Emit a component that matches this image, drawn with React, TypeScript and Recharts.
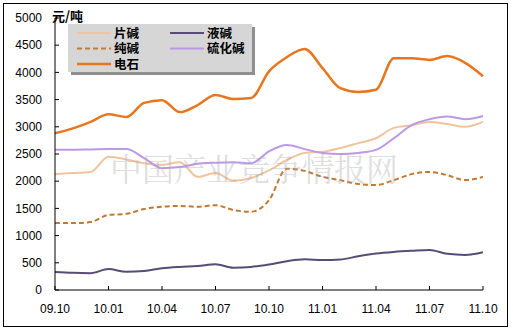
import React from "react";
import { LineChart, Line, XAxis, YAxis, Legend } from "recharts";

const months = [
  "09.10", "09.11", "09.12", "10.01", "10.02", "10.03", "10.04", "10.05", "10.06",
  "10.07", "10.08", "10.09", "10.10", "10.11", "10.12", "11.01", "11.02", "11.03",
  "11.04", "11.05", "11.06", "11.07", "11.08", "11.09", "11.10",
];
const tickLabels = ["09.10", "10.01", "10.04", "10.07", "10.10", "11.01", "11.04", "11.07", "11.10"];
const yTicks = [0, 500, 1000, 1500, 2000, 2500, 3000, 3500, 4000, 4500, 5000];

// 片碱
const pianJian = [2130, 2150, 2170, 2450, 2400, 2330, 2300, 2350, 2080, 2150, 2010, 2060, 2200, 2390, 2520, 2540, 2610, 2700, 2790, 2980, 3030, 3090, 3050, 3000, 3090];
// 纯碱
const chunJian = [1230, 1230, 1250, 1380, 1400, 1490, 1530, 1545, 1530, 1560, 1470, 1440, 1650, 2230, 2190, 2080, 2020, 1950, 1930, 2020, 2130, 2170, 2110, 2020, 2080];
// 电石
const dianShi = [2880, 2970, 3090, 3230, 3180, 3440, 3490, 3270, 3400, 3585, 3510, 3530, 4020, 4280, 4430, 4080, 3710, 3640, 3680, 4260, 4260, 4230, 4300, 4175, 3930];
// 液碱
const yeJian = [330, 315, 310, 385, 335, 350, 400, 425, 440, 475, 410, 425, 470, 530, 565, 550, 560, 620, 670, 700, 720, 735, 665, 645, 695];
// 硫化碱
const liuHuaJian = [2580, 2580, 2585, 2590, 2590, 2425, 2240, 2260, 2320, 2340, 2350, 2330, 2550, 2665, 2590, 2520, 2500, 2520, 2575, 2790, 3030, 3140, 3190, 3140, 3200];

const data = months.map((m, i) => ({
  month: m,
  片碱: pianJian[i],
  纯碱: chunJian[i],
  电石: dianShi[i],
  液碱: yeJian[i],
  硫化碱: liuHuaJian[i],
}));

const legendItems = [
  { name: "片碱", color: "#F2C49E", dash: "", width: 2 },
  { name: "液碱", color: "#5A4A78", dash: "", width: 2 },
  { name: "纯碱", color: "#C07A36", dash: "5 3", width: 2 },
  { name: "硫化碱", color: "#BC98E6", dash: "", width: 2 },
  { name: "电石", color: "#E8761E", dash: "", width: 2.5 },
];

const cjk = '"Noto Sans CJK SC", sans-serif';
// Latin primary font keeps the text box tight; CJK glyphs fall back to Noto
const legendFont = '"Liberation Sans", "Noto Sans CJK SC", sans-serif';

const LegendBox = () => (
  <svg width={190} height={54} style={{ overflow: "visible" }}>
    <rect x={3} y={3} width={184} height={48} fill="#8f8f8f" />
    <rect x={0} y={0} width={184} height={48} fill="#D6D6D6" />
    {legendItems.map((it, i) => {
      const col = i % 2;
      const row = Math.floor(i / 2);
      const x = 9 + col * 93;
      const y = 9 + row * 15.5;
      return (
        <g key={it.name}>
          <line
            x1={x}
            y1={y}
            x2={x + 34}
            y2={y}
            stroke={it.color}
            strokeWidth={it.width}
            strokeDasharray={it.dash}
          />
          <text
            x={x + 37}
            y={y + 4.5}
            fontFamily={legendFont}
            fontWeight={700}
            fontSize={12.5}
            fill="#000"
          >
            {it.name}
          </text>
        </g>
      );
    })}
  </svg>
);

export default function App() {
  return (
    <div
      style={{
        position: "absolute",
        left: 0,
        top: 0,
        width: 513,
        height: 331,
        background: "#fff",
        fontFamily: '"Liberation Sans", Arial, sans-serif',
      }}
    >
      <div
        style={{
          position: "absolute",
          left: 3,
          top: 3,
          width: 503,
          height: 322,
          border: "1px solid #000",
        }}
      />
      <LineChart
        width={513}
        height={331}
        data={data}
        margin={{ top: 18, right: 30, bottom: 11, left: 0 }}
        style={{ position: "absolute", left: 0, top: 0 }}
      >
        <XAxis
          dataKey="month"
          ticks={tickLabels}
          interval={0}
          height={30}
          tickSize={-4}
          tickMargin={18}
          axisLine={{ stroke: "#000" }}
          tickLine={{ stroke: "#000" }}
          tick={{ fill: "#000", fontSize: 12 }}
        />
        <YAxis
          width={55}
          domain={[0, 5000]}
          ticks={yTicks}
          interval={0}
          tickSize={-4}
          tickMargin={17}
          axisLine={{ stroke: "#000" }}
          tickLine={{ stroke: "#000" }}
          tick={{ fill: "#000", fontSize: 12 }}
        />
        <Legend
          layout="horizontal"
          verticalAlign="middle"
          align="center"
          content={() => <LegendBox />}
          wrapperStyle={{ left: 68, top: 24, width: 190, height: 54 }}
        />
        <Line type="monotone" dataKey="片碱" stroke="#F2C49E" strokeWidth={2} dot={false} isAnimationActive={false} />
        <Line type="monotone" dataKey="硫化碱" stroke="#BC98E6" strokeWidth={2} dot={false} isAnimationActive={false} />
        <Line type="monotone" dataKey="纯碱" stroke="#C07A36" strokeWidth={2} strokeDasharray="5 3" dot={false} isAnimationActive={false} />
        <Line type="monotone" dataKey="液碱" stroke="#5A4A78" strokeWidth={2} dot={false} isAnimationActive={false} />
        <Line type="monotone" dataKey="电石" stroke="#E8761E" strokeWidth={2.5} dot={false} isAnimationActive={false} />
      </LineChart>
      <div
        style={{
          position: "absolute",
          left: 52,
          top: 9,
          fontFamily: cjk,
          fontWeight: 700,
          fontSize: 13,
          lineHeight: "14px",
          color: "#000",
        }}
      >
        元/吨
      </div>
      <div
        style={{
          position: "absolute",
          left: 110,
          top: 150,
          fontFamily: '"Noto Serif CJK SC", "Noto Sans CJK SC", serif',
          fontSize: 32,
          lineHeight: "34px",
          color: "rgba(170,170,170,0.4)",
          whiteSpace: "nowrap",
          pointerEvents: "none",
        }}
      >
        中国产业竞争情报网
      </div>
    </div>
  );
}
